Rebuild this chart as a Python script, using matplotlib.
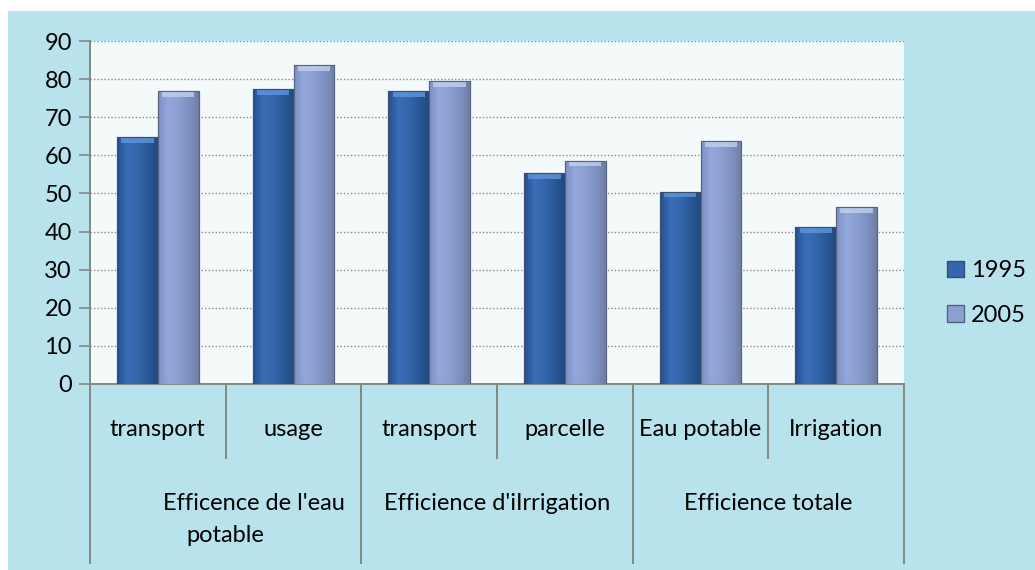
import numpy as np
import matplotlib.pyplot as plt
import matplotlib.transforms as mtransforms
from matplotlib.colors import LinearSegmentedColormap
from matplotlib.patches import Rectangle, Patch

# data
subcategories = ['transport', 'usage', 'transport', 'parcelle', 'Eau potable', 'Irrigation']
groups = ["Efficence de l'eau", "Efficience d'iIrrigation", 'Efficience totale']
group_extra = ['potable', '', '']
group_sizes = [2, 2, 2]
years = ['1995', '2005']
values_1995 = [64.7, 77.3, 76.9, 55.3, 50.5, 41.2]
values_2005 = [76.8, 83.7, 79.5, 58.6, 63.8, 46.4]
yticks = list(range(0, 100, 10))

plt.rcParams['font.family'] = ['Lato', 'DejaVu Sans']
FS = 17

fig = plt.figure(figsize=(10.35, 5.7), dpi=100)
fig.patch.set_facecolor('white')

# watery background panel
fig.patches.append(Rectangle((8 / 1035, 0), 1, (570 - 11) / 570,
                             transform=fig.transFigure, facecolor='#b9e3ec',
                             edgecolor='none', zorder=-10))

ax = fig.add_axes([90 / 1035, (570 - 384) / 570, 814 / 1035, 343 / 570])
ax.set_facecolor('#f4f9fa')

x = np.arange(len(subcategories))
w = 0.30

cmap_95 = LinearSegmentedColormap.from_list('c95', ['#24508e', '#3a6fb8', '#3466ab', '#2a5a9a', '#23497f'])
cmap_05 = LinearSegmentedColormap.from_list('c05', ['#7d90c4', '#93a8dc', '#8b9fd2', '#8092c2', '#6f7ea6'])
cap_95 = '#5f96dc'
cap_05 = '#c2d0ee'

bars_95 = ax.bar(x - w / 2, values_1995, w, color='#3466ab', edgecolor='#3c4d6e', linewidth=0.8, zorder=3)
bars_05 = ax.bar(x + w / 2, values_2005, w, color='#8b9fd2', edgecolor='#56627f', linewidth=0.8, zorder=3)

grad = np.linspace(0, 1, 64).reshape(1, -1)
for bars, cmap, cap in [(bars_95, cmap_95, cap_95), (bars_05, cmap_05, cap_05)]:
    for b in bars:
        x0, y0 = b.get_x(), b.get_y()
        bw, bh = b.get_width(), b.get_height()
        im = ax.imshow(grad, cmap=cmap, aspect='auto', extent=[x0, x0 + bw, y0, y0 + bh],
                       zorder=3.5, interpolation='bicubic')
        im.set_clip_path(b)
        ax.add_patch(Rectangle((x0 + bw * 0.1, y0 + bh - 1.5), bw * 0.8, 1.3,
                               facecolor=cap, edgecolor='none', zorder=3.6, alpha=0.8))
        ax.add_patch(Rectangle((x0, y0), bw, bh, facecolor='none',
                               edgecolor=b.get_edgecolor(), linewidth=0.8, zorder=3.7))

ax.set_xlim(-0.5, len(subcategories) - 0.5)
ax.set_ylim(0, 90)
ax.set_yticks(yticks)
ax.tick_params(axis='y', length=8, width=1.2, color='#868686', labelsize=FS, pad=5)
ax.set_xticks([])
ax.yaxis.grid(True, color='#8c8c8c', linestyle=(0, (1, 1.5)), linewidth=1.0, zorder=0)
ax.set_axisbelow(True)
for s in ['top', 'right']:
    ax.spines[s].set_visible(False)
for s in ['left', 'bottom']:
    ax.spines[s].set_color('#868686')
    ax.spines[s].set_linewidth(1.4)

# multi-level category axis
trans = mtransforms.blended_transform_factory(ax.transData, ax.transAxes)
short_y = (384 - 458) / 343
long_y = (384 - 563) / 343
bounds = np.arange(len(subcategories) + 1) - 0.5
group_edges = np.concatenate([[0], np.cumsum(group_sizes)]) - 0.5
for b in bounds:
    y_end = long_y if b in group_edges else short_y
    ax.plot([b, b], [0, y_end], transform=trans, color='#868686', linewidth=1.4, clip_on=False)

sub_y = (384 - 429) / 343
for xi, lab in zip(x, subcategories):
    ax.text(xi, sub_y, lab, transform=trans, ha='center', va='center', fontsize=FS)

grp_y = (384 - 503) / 343
extra_y = (384 - 535) / 343
for gi, lab in enumerate(groups):
    cx = (group_edges[gi] + group_edges[gi + 1]) / 2
    if group_extra[gi]:
        ax.text(cx + 0.21, grp_y, lab, transform=trans, ha='center', va='center', fontsize=FS)
        ax.text(cx, extra_y, group_extra[gi], transform=trans, ha='center', va='center', fontsize=FS)
    else:
        ax.text(cx, grp_y, lab, transform=trans, ha='center', va='center', fontsize=FS)

handles = [Patch(facecolor='#3466ab', edgecolor='#3c4d6e'),
           Patch(facecolor='#8b9fd2', edgecolor='#56627f')]
fig.legend(handles, years, loc='center left', bbox_to_anchor=(926 / 1035, (570 - 293) / 570),
           frameon=False, fontsize=FS, handlelength=0.7, handleheight=0.7,
           handletextpad=0.3, labelspacing=1.0)

fig.savefig('out.png', dpi=100)
